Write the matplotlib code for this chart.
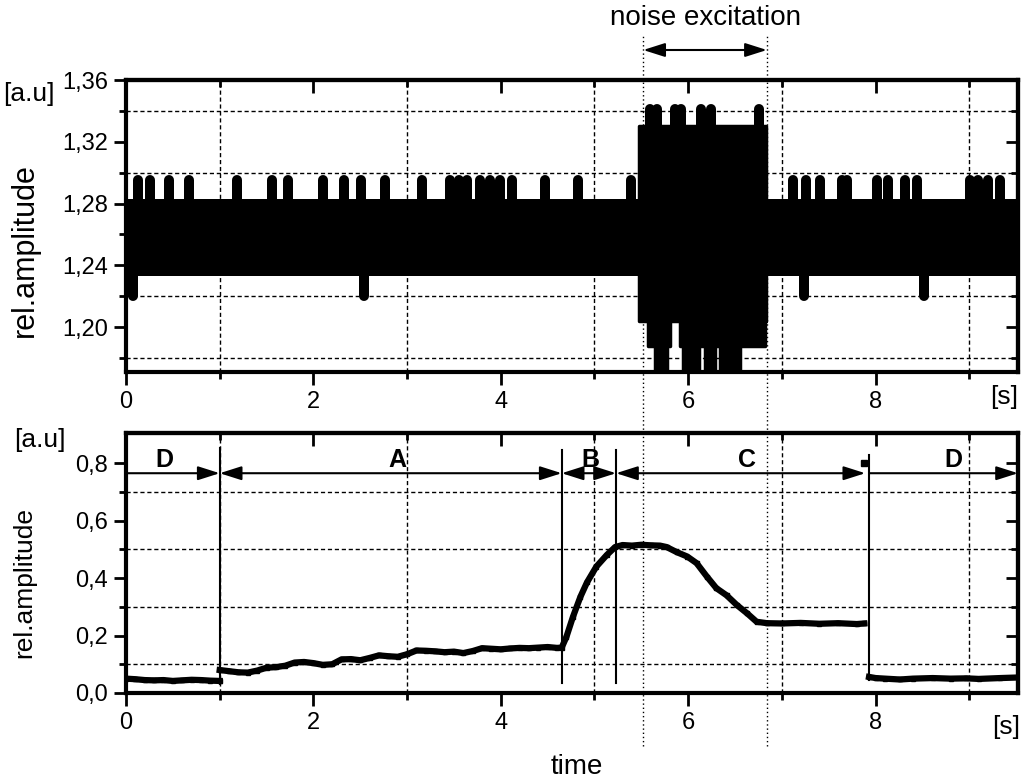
import numpy as np
import matplotlib
matplotlib.use('Agg')
import matplotlib.pyplot as plt
from matplotlib.ticker import FixedLocator, FuncFormatter, NullFormatter
from matplotlib.transforms import blended_transform_factory

plt.rcParams['font.family'] = ['Liberation Sans', 'DejaVu Sans']

# ---------------- data: top panel (raw signal, read as envelopes + spikes) ----------------
band_t = [0.0, 9.52]
band_low = [1.233, 1.233]
band_high = [1.283, 1.283]

noise_t = [5.48, 5.57, 5.65, 5.77, 5.81, 5.91, 5.94, 6.12, 6.18, 6.29, 6.34, 6.55, 6.82, 6.83]
noise_low = [1.204, 1.188, 1.160, 1.188, 1.204, 1.188, 1.160, 1.188, 1.160, 1.188, 1.160, 1.188, 1.204, 1.204]
noise_high = [1.330] * len(noise_t)

up_spike_t = [0.13, 0.26, 0.46, 0.67, 1.18, 1.56, 1.73, 2.10, 2.33, 2.51, 2.76, 3.16,
              3.46, 3.55, 3.64, 3.78, 3.88, 3.99, 4.12, 4.47, 4.82, 5.39,
              7.12, 7.26, 7.41, 7.64, 7.70, 8.01, 8.13, 8.31, 8.44, 9.01, 9.09, 9.20, 9.33]
up_spike_tip = 1.2955
down_spike_t = [0.08, 2.54, 7.24, 8.52]
down_spike_tip = 1.2205
noise_spike_t = [5.59, 5.67, 5.86, 5.92, 6.14, 6.24, 6.76]
noise_spike_tip = 1.341

# ---------------- data: bottom panel (relative amplitude) ----------------
tD1 = [0.0, 0.1, 0.2, 0.3, 0.4, 0.5, 0.6, 0.7, 0.8, 0.9, 1.0]
vD1 = [0.050, 0.048, 0.045, 0.044, 0.045, 0.042, 0.044, 0.046, 0.045, 0.043, 0.042]

tABC = [1.0, 1.1, 1.2, 1.3, 1.4, 1.5, 1.6, 1.7, 1.8, 1.9, 2.0, 2.1, 2.2, 2.3, 2.4, 2.5,
        2.6, 2.7, 2.8, 2.9, 3.0, 3.1, 3.2, 3.3, 3.4, 3.5, 3.6, 3.7, 3.8, 3.9, 4.0, 4.1,
        4.2, 4.3, 4.4, 4.5, 4.6, 4.65,
        4.70, 4.77, 4.85, 4.92, 5.02, 5.13, 5.22,
        5.3, 5.4, 5.5, 5.6, 5.7, 5.77, 5.88, 5.99, 6.09, 6.2, 6.3, 6.41, 6.52, 6.63,
        6.73, 6.84, 7.0, 7.2, 7.4, 7.6, 7.8, 7.88]
vABC = [0.080, 0.076, 0.072, 0.071, 0.078, 0.088, 0.090, 0.095, 0.106, 0.108, 0.104,
        0.098, 0.100, 0.117, 0.118, 0.114, 0.122, 0.131, 0.128, 0.126, 0.135, 0.148,
        0.147, 0.145, 0.142, 0.144, 0.139, 0.146, 0.156, 0.154, 0.152, 0.155, 0.157,
        0.156, 0.158, 0.160, 0.157, 0.158,
        0.195, 0.265, 0.335, 0.385, 0.440, 0.480, 0.508,
        0.515, 0.513, 0.516, 0.514, 0.513, 0.508, 0.490, 0.475, 0.452, 0.405, 0.365,
        0.340, 0.306, 0.277, 0.248, 0.243, 0.242, 0.244, 0.241, 0.243, 0.240, 0.242]

tD2 = [7.93, 8.0, 8.1, 8.26, 8.4, 8.61, 8.8, 8.97, 9.1, 9.33, 9.52]
vD2 = [0.056, 0.052, 0.050, 0.047, 0.050, 0.052, 0.050, 0.051, 0.049, 0.052, 0.054]

phase_bounds = [1.0, 4.65, 5.23, 7.93]
phase_tops = [0.852, 0.845, 0.845, 0.828]
phase_bottoms = [0.030, 0.035, 0.035, 0.045]
phase_names = ['D', 'A', 'B', 'C', 'D']
phase_label_x = [0.41, 2.90, 4.96, 6.63, 8.83]
arrow_y = 0.765
noise_start, noise_end = 5.52, 6.84

x_major = [0, 2, 4, 6, 8]
x_minor = [1, 3, 5, 7, 9]
top_major = [1.20, 1.24, 1.28, 1.32, 1.36]
top_minor = [1.18, 1.22, 1.26, 1.30, 1.34]
bot_major = [0.0, 0.2, 0.4, 0.6, 0.8]
bot_minor = [0.1, 0.3, 0.5, 0.7]

# ---------------- figure ----------------
W, H = 1025, 780
fig = plt.figure(figsize=(W / 100, H / 100), dpi=100)
ax1 = fig.add_axes([126 / W, 1 - 372 / H, 892 / W, 292 / H])
ax2 = fig.add_axes([126 / W, 1 - 693 / H, 892 / W, 260 / H])

TICK = 17
SPW = 3.0


def comma(fmt):
    return FuncFormatter(lambda v, p: (fmt % v).replace('.', ','))


def style(ax, ymaj, ymin, yfmt, ylim):
    ax.set_xlim(0, 9.52)
    ax.set_ylim(*ylim)
    ax.xaxis.set_major_locator(FixedLocator(x_major))
    ax.xaxis.set_minor_locator(FixedLocator(x_minor))
    ax.yaxis.set_major_locator(FixedLocator(ymaj))
    ax.yaxis.set_minor_locator(FixedLocator(ymin))
    ax.xaxis.set_major_formatter(FuncFormatter(lambda v, p: '%d' % v))
    ax.yaxis.set_major_formatter(comma(yfmt))
    ax.tick_params(which='major', direction='out', length=9, width=2, labelsize=TICK, pad=4)
    ax.tick_params(which='minor', direction='out', length=5, width=2)
    ax.tick_params(axis='x', which='major', pad=5)
    for s in ax.spines.values():
        s.set_linewidth(SPW)
    ax.grid(which='minor', color='k', lw=1.0, ls=(0, (3, 2)))
    ax.set_axisbelow(True)
    # mirrored ticks pointing inward
    sx = ax.secondary_xaxis('top')
    sx.xaxis.set_major_locator(FixedLocator(x_major))
    sx.xaxis.set_minor_locator(FixedLocator(x_minor))
    sx.xaxis.set_major_formatter(NullFormatter())
    sx.tick_params(which='major', direction='in', length=9, width=2)
    sx.tick_params(which='minor', direction='in', length=5, width=2)
    sx.spines['top'].set_linewidth(SPW)
    sy = ax.secondary_yaxis('right')
    sy.yaxis.set_major_locator(FixedLocator(ymaj))
    sy.yaxis.set_minor_locator(FixedLocator(ymin))
    sy.yaxis.set_major_formatter(NullFormatter())
    sy.tick_params(which='major', direction='in', length=9, width=2)
    sy.tick_params(which='minor', direction='in', length=5, width=2)
    sy.spines['right'].set_linewidth(SPW)


style(ax1, top_major, top_minor, '%.2f', (1.171, 1.36))
style(ax2, bot_major, bot_minor, '%.1f', (0.0, 0.905))

# ---- top panel signal ----
ax1.fill_between(band_t, band_low, band_high, color='k', lw=0, zorder=3)
blk = ax1.fill_between(noise_t, noise_low, noise_high, step='post', facecolor='k',
                       edgecolor='k', lw=2.5, zorder=3)
blk.set_joinstyle('round')
lc = ax1.vlines(up_spike_t, band_high[0] - 0.005, up_spike_tip, color='k', lw=7.2, zorder=3)
lc.set_capstyle('round')
lc = ax1.vlines(down_spike_t, band_low[0] + 0.005, down_spike_tip, color='k', lw=7.2, zorder=3)
lc.set_capstyle('round')
lc = ax1.vlines(noise_spike_t, noise_high[0] - 0.005, noise_spike_tip, color='k', lw=7.2, zorder=3)
lc.set_capstyle('round')

# ---- bottom panel ----
for tt, vv in [(tD1, vD1), (tABC, vABC), (tD2, vD2)]:
    ax2.plot(tt, vv, color='k', lw=4.5, marker='s', ms=3.5, zorder=3)
for xb, yt, yb in zip(phase_bounds, phase_tops, phase_bottoms):
    ax2.plot([xb, xb], [yb, yt], color='k', lw=1.5, zorder=4)

ap = dict(color='k', lw=1.5, shrinkA=0, shrinkB=0, mutation_scale=12)
segs = [(0.0, phase_bounds[0], '-|>'),
        (phase_bounds[0], phase_bounds[1], '<|-|>'),
        (phase_bounds[1], phase_bounds[2], '<|-|>'),
        (phase_bounds[2], 7.89, '<|-|>'),
        (phase_bounds[3], 9.52, '-|>')]
for x0, x1, st in segs:
    ax2.annotate('', xy=(x1, arrow_y), xytext=(x0, arrow_y),
                 arrowprops=dict(arrowstyle=st + ',head_length=1.1,head_width=0.35', **ap),
                 annotation_clip=False, zorder=5)
for name, xl in zip(phase_names, phase_label_x):
    ax2.text(xl, 0.812, name, ha='center', va='center', fontsize=18, fontweight='bold', zorder=5)
ax2.plot([7.88], [0.80], marker='s', ms=4, color='k', zorder=5)

# ---- noise excitation markers across the figure ----
tr = blended_transform_factory(ax2.transData, fig.transFigure)
for xn in [noise_start, noise_end]:
    ax2.plot([xn, xn], [1 - 746 / H, 1 - 35 / H], transform=tr, color='k', lw=1.0,
             ls=(0, (1, 2)), clip_on=False, zorder=6)
ax2.annotate('', xy=(noise_end, 1 - 50 / H), xytext=(noise_start, 1 - 50 / H),
             xycoords=tr, textcoords=tr,
             arrowprops=dict(arrowstyle='<|-|>,head_length=1.1,head_width=0.35', **ap),
             annotation_clip=False)
ax2.text((noise_start + noise_end) / 2, 1 - 18 / H, 'noise excitation', transform=tr,
         ha='center', va='center', fontsize=20)

# ---- axis texts ----
fig.text(25 / W, 1 - 250 / H, 'rel.amplitude', rotation=90, ha='center', va='center', fontsize=22)
fig.text(24 / W, 1 - 582 / H, 'rel.amplitude', rotation=90, ha='center', va='center', fontsize=19)
fig.text(29 / W, 1 - 94 / H, '[a.u]', ha='center', va='center', fontsize=19)
fig.text(40 / W, 1 - 440 / H, '[a.u]', ha='center', va='center', fontsize=19)
fig.text(1018 / W, 1 - 397 / H, '[s]', ha='right', va='center', fontsize=19)
fig.text(1020 / W, 1 - 727 / H, '[s]', ha='right', va='center', fontsize=19)
fig.text(577 / W, 1 - 767 / H, 'time', ha='center', va='center', fontsize=20)

fig.savefig('out.png', dpi=100)
